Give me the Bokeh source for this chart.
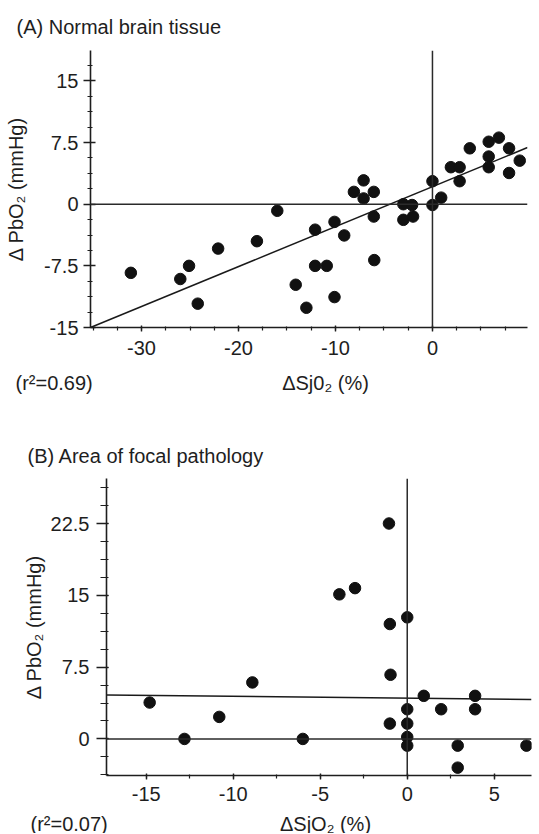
from bokeh.plotting import figure
from bokeh.models import (Span, Title, Label, SingleIntervalTicker, NumeralTickFormatter, Range1d)
from bokeh.embed import file_html
from bokeh.resources import INLINE

# ---------------- data: panel A (normal brain tissue) ----------------
xA = [-31.1, -26.0, -25.1, -24.2, -22.1, -18.1, -16.0, -14.1, -13.0, -12.1, -12.1,
      -10.9, -10.1, -10.1, -9.1, -8.1, -7.1, -7.1, -6.05, -6.05, -6.0, -3.0, -3.0,
      -2.1, -2.0, 0.0, 0.0, 0.9, 1.9, 2.8, 2.8, 3.85, 5.8, 5.8, 5.8, 6.85, 7.9, 7.9, 9.0]
yA = [-8.35, -9.1, -7.5, -12.1, -5.4, -4.5, -0.8, -9.8, -12.6, -3.1, -7.5,
      -7.5, -11.3, -2.15, -3.8, 1.5, 2.9, 0.7, 1.5, -1.5, -6.8, 0.0, -1.9,
      -0.1, -1.5, 2.8, -0.1, 0.8, 4.5, 4.5, 2.8, 6.8, 7.6, 5.8, 4.5, 8.1, 6.8, 3.8, 5.3]
slopeA, interceptA = 0.486, 2.13
titleA = "(A) Normal brain tissue"
r2A = "(r\u00b2=0.69)"
xlabelA = "\u0394Sj0\u2082 (%)"

# ---------------- data: panel B (area of focal pathology) ----------------
xB = [-14.8, -12.8, -10.8, -8.9, -6.0, -3.9, -3.0, -1.05, -1.0, -0.96, -1.0,
      0.0, 0.0, 0.0, 0.0, 0.0, 0.95, 1.95, 2.9, 2.9, 3.9, 3.9, 6.85]
yB = [3.8, 0.0, 2.3, 5.9, 0.0, 15.1, 15.75, 22.5, 12.0, 6.7, 1.6,
      12.7, 3.1, 1.6, 0.2, -0.7, 4.5, 3.1, -0.7, -3.0, 4.5, 3.1, -0.7]
slopeB, interceptB = -0.02, 4.25
titleB = "(B) Area of focal pathology"
r2B = "(r\u00b2=0.07)"
xlabelB = "\u0394SjO\u2082 (%)"
ylabel = "\u0394 PbO\u2082 (mmHg)"

FONT = "Liberation Sans"
FS = "20px"
INK = "#1e1e1e"
W = 535


def make_panel(xs, ys, slope, intercept, xr, yr, xint, xminor, yminor,
               height, bl, br, bt, bb, ytick_out, ytick_in, ylab_standoff,
               xlab_standoff, yl_standoff, title, title_off, title_standoff):
    p = figure(width=W, height=height, output_backend="svg", toolbar_location=None,
               x_range=Range1d(*xr), y_range=Range1d(*yr),
               min_border_left=bl, min_border_right=br, min_border_top=bt,
               min_border_bottom=bb)
    p.outline_line_color = None
    p.grid.visible = False
    p.background_fill_color = "white"
    p.border_fill_color = "white"
    p.title.visible = False
    p.add_layout(Title(text=title, align="left", offset=title_off, standoff=title_standoff,
                       text_font=FONT, text_font_size=FS, text_font_style="normal",
                       text_color=INK), "above")

    p.xaxis.ticker = SingleIntervalTicker(interval=xint, num_minor_ticks=xminor)
    p.yaxis.ticker = SingleIntervalTicker(interval=7.5, num_minor_ticks=yminor)
    p.yaxis.formatter = NumeralTickFormatter(format="0.[0]")
    p.xaxis.formatter = NumeralTickFormatter(format="0")
    for ax in (p.xaxis, p.yaxis):
        ax.axis_line_color = INK
        ax.axis_line_width = 1.6
        ax.major_tick_line_color = INK
        ax.minor_tick_line_color = INK
        ax.major_tick_line_width = 1.4
        ax.minor_tick_line_width = 1.2
        ax.major_label_text_font = FONT
        ax.major_label_text_font_size = FS
        ax.major_label_text_color = INK
        ax.axis_label_text_font = FONT
        ax.axis_label_text_font_size = FS
        ax.axis_label_text_font_style = "normal"
        ax.axis_label_text_color = INK
    p.yaxis.axis_label = ylabel
    p.yaxis.axis_label_standoff = yl_standoff
    p.xaxis.major_tick_out = 4
    p.xaxis.major_tick_in = 2
    p.xaxis.minor_tick_out = 3
    p.xaxis.minor_tick_in = 1
    p.xaxis.major_label_standoff = xlab_standoff
    p.yaxis.major_tick_out = ytick_out
    p.yaxis.major_tick_in = ytick_in
    p.yaxis.minor_tick_out = max(ytick_out - 4, 3)
    p.yaxis.minor_tick_in = 2
    p.yaxis.major_label_standoff = ylab_standoff

    # reference lines
    p.add_layout(Span(location=0, dimension="width", line_color="#2a2a2a", line_width=1.5))
    p.add_layout(Span(location=0, dimension="height", line_color="#2a2a2a", line_width=1.5))

    # regression line
    lx = [xr[0], xr[1]]
    ly = [slope * v + intercept for v in lx]
    p.line(lx, ly, line_color="#1a1a1a", line_width=1.5)

    p.scatter(xs, ys, size=11.5, fill_color="#111111", line_color="#111111")
    return p


def make_strip(height, r2, r2_x, xlabel, xlabel_cx, text_y):
    """Text row under a panel: r^2 note on the left, x-axis title."""
    s = figure(width=W, height=height, output_backend="svg", toolbar_location=None,
               x_axis_type=None, y_axis_type=None, x_range=Range1d(0, 1),
               y_range=Range1d(0, 1), min_border=0)
    s.title.visible = False
    s.outline_line_color = None
    s.grid.visible = False
    s.background_fill_color = "white"
    s.border_fill_color = "white"
    common = dict(x_units="screen", y_units="screen", text_font=FONT, text_font_size=FS,
                  text_color=INK, text_baseline="middle")
    s.add_layout(Label(x=r2_x, y=text_y, text=r2, text_align="left", **common))
    s.add_layout(Label(x=xlabel_cx, y=text_y, text=xlabel, text_align="center", **common))
    return s


pA = make_panel(xA, yA, slopeA, interceptA, (-35.26, 9.8), (-15, 18.7), 10, 4, 4,
                365, 90, 8, 50, 38, 7, 5, 5,
                9, 14, titleA, -74, 25)
sA = make_strip(35, r2A, 15, xlabelA, 325, 18)
pB = make_panel(xB, yB, slopeB, interceptB, (-17.28, 7.14), (-3.82, 27.2), 5, 2, 4,
                409, 106, 4, 78, 34, 10, 2, 7,
                7, 3, titleB, -79, 23)
sB = make_strip(24, r2B, 30, xlabelB, 325, 10)

open("out.html", "w").write(file_html([pA, sA, pB, sB], INLINE))
